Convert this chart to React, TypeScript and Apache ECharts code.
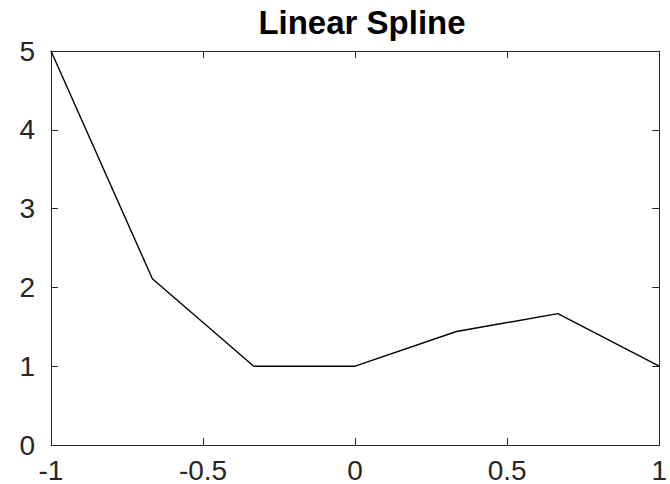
import React, { useEffect, useRef } from "react";
import * as echarts from "echarts";

const xValues = [-1, -2 / 3, -1 / 3, 0, 1 / 3, 2 / 3, 1];
const yValues = [5, 2.11, 1, 1, 1.44, 1.667, 1];
const titleText = "Linear Spline";

export default function App() {
  const ref = useRef<HTMLDivElement>(null);
  useEffect(() => {
    if (!ref.current) return;
    const chart = echarts.init(ref.current, undefined, { renderer: "svg" });
    const axisColor = "#262626";
    const font = "Liberation Sans, Helvetica, Arial, sans-serif";
    const baseX = {
      type: "value" as const,
      min: -1,
      max: 1,
      interval: 0.5,
      splitLine: { show: false },
      axisLine: { show: true, onZero: false, lineStyle: { color: axisColor, width: 1 } },
      axisTick: { show: true, inside: true, length: 7, lineStyle: { color: axisColor } },
    };
    const baseY = {
      type: "value" as const,
      min: 0,
      max: 5,
      interval: 1,
      splitLine: { show: false },
      axisLine: { show: true, onZero: false, lineStyle: { color: axisColor, width: 1 } },
      axisTick: { show: true, inside: true, length: 7, lineStyle: { color: axisColor } },
    };
    chart.setOption({
      animation: false,
      backgroundColor: "#ffffff",
      title: {
        text: titleText,
        left: 357,
        textAlign: "center",
        top: 1,
        textStyle: { fontFamily: font, fontSize: 33, fontWeight: "bold", color: "#000" },
      },
      grid: { left: 51, right: 7, top: 51, bottom: 38, containLabel: false },
      xAxis: [
        {
          ...baseX,
          position: "bottom",
          axisLabel: {
            show: true,
            margin: 11,
            fontFamily: font,
            fontSize: 28,
            color: axisColor,
            formatter: (v: number) => String(v),
          },
        },
        { ...baseX, position: "top", axisLabel: { show: false } },
      ],
      yAxis: [
        {
          ...baseY,
          position: "left",
          axisLabel: {
            show: true,
            margin: 16,
            fontFamily: font,
            fontSize: 28,
            color: axisColor,
          },
        },
        { ...baseY, position: "right", axisLabel: { show: false } },
      ],
      series: [
        {
          type: "line",
          xAxisIndex: 0,
          yAxisIndex: 0,
          data: xValues.map((x, i) => [x, yValues[i]]),
          showSymbol: false,
          symbol: "none",
          lineStyle: { color: "#000", width: 1.4 },
          clip: false,
        },
      ],
    });
    return () => chart.dispose();
  }, []);
  return <div ref={ref} style={{ width: 670, height: 484, position: "absolute", left: 0, top: 0 }} />;
}
